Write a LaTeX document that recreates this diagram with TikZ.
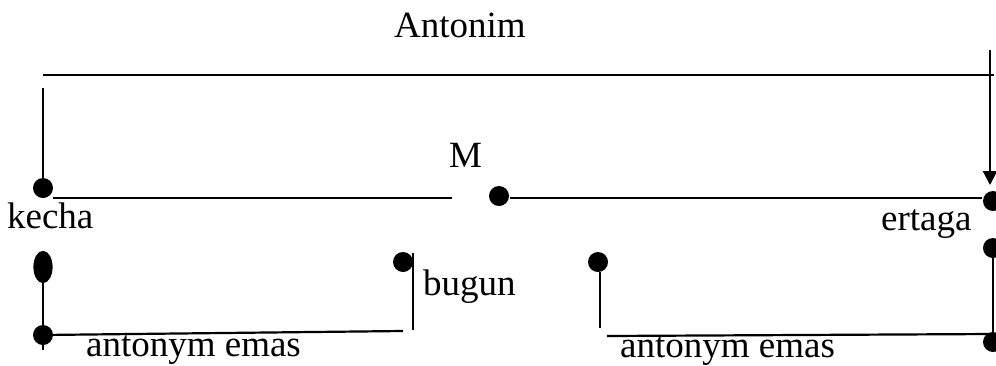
\documentclass[tikz,border=0pt]{standalone}
\usepackage{fontspec}
\setmainfont{Liberation Serif}
\usetikzlibrary{arrows.meta,shapes.geometric}

\begin{document}
\begin{tikzpicture}[x=0.5pt,y=-0.5pt,line width=1.1pt,
  every node/.style={font=\fontsize{18.5}{20}\selectfont,inner sep=0pt},
  dot/.style={circle,fill,minimum size=10pt},
  lbl/.style={anchor=base west}]
  \useasboundingbox (0,0) rectangle (996,365);
  % heading and top bracket
  \node[lbl] (antonim) at (393,37) {Antonim};
  \coordinate (topL) at (43,75);
  \coordinate (topR) at (994,75);
  \draw (topL) -- (topR);
  \coordinate (armL) at (43,88);
  \coordinate (armR) at (990,50);
  % middle row : kecha -- M -- ertaga
  \node[dot] (kecha-pt) at (43,188) {};
  \node[dot] (m-pt) at (499,196) {};
  \node[dot] (ertaga-pt) at (993,201) {};
  \node[lbl] (kecha) at (6,228) {kecha};
  \node[lbl] (m) at (448,167) {M};
  \node[lbl] (ertaga) at (880,230) {ertaga};
  \coordinate (gapL) at (452,198);
  \draw (armL) -- (kecha-pt.center);
  \draw (kecha-pt.center |- gapL) ++(10,0) -- (gapL);
  \draw (m-pt.east |- gapL) -- (ertaga-pt.west |- gapL);
  \draw[-{Triangle[length=7pt,width=7pt]}] (armR) -- (990,185);
  % lower left : kecha -- bugun
  \node[draw,fill,ellipse,minimum width=8.5pt,minimum height=15pt] (low-kecha) at (43,267) {};
  \node[dot] (low-kecha2) at (43,335) {};
  \node[dot] (bugun-pt) at (403,262) {};
  \node[lbl] (bugun) at (422,295) {bugun};
  \node[lbl] (emasL) at (85,356) {antonym emas};
  \draw[line width=0.9pt] (low-kecha.south) -- (43,350);
  \draw (low-kecha2.center) -- (403,331);
  \draw[line width=0.9pt] (413,253) -- (413,330);
  % lower right : bugun -- ertaga
  \node[dot] (bugun-pt2) at (598,262) {};
  \node[dot] (low-ertaga) at (993,248) {};
  \node[dot] (low-ertaga2) at (993,342) {};
  \node[lbl] (emasR) at (619,357) {antonym emas};
  \draw[line width=0.9pt] (600,272) -- (600,328);
  \draw (607,336) -- (993,334);
  \draw (low-ertaga.center) -- (low-ertaga2.center);
\end{tikzpicture}
\end{document}
